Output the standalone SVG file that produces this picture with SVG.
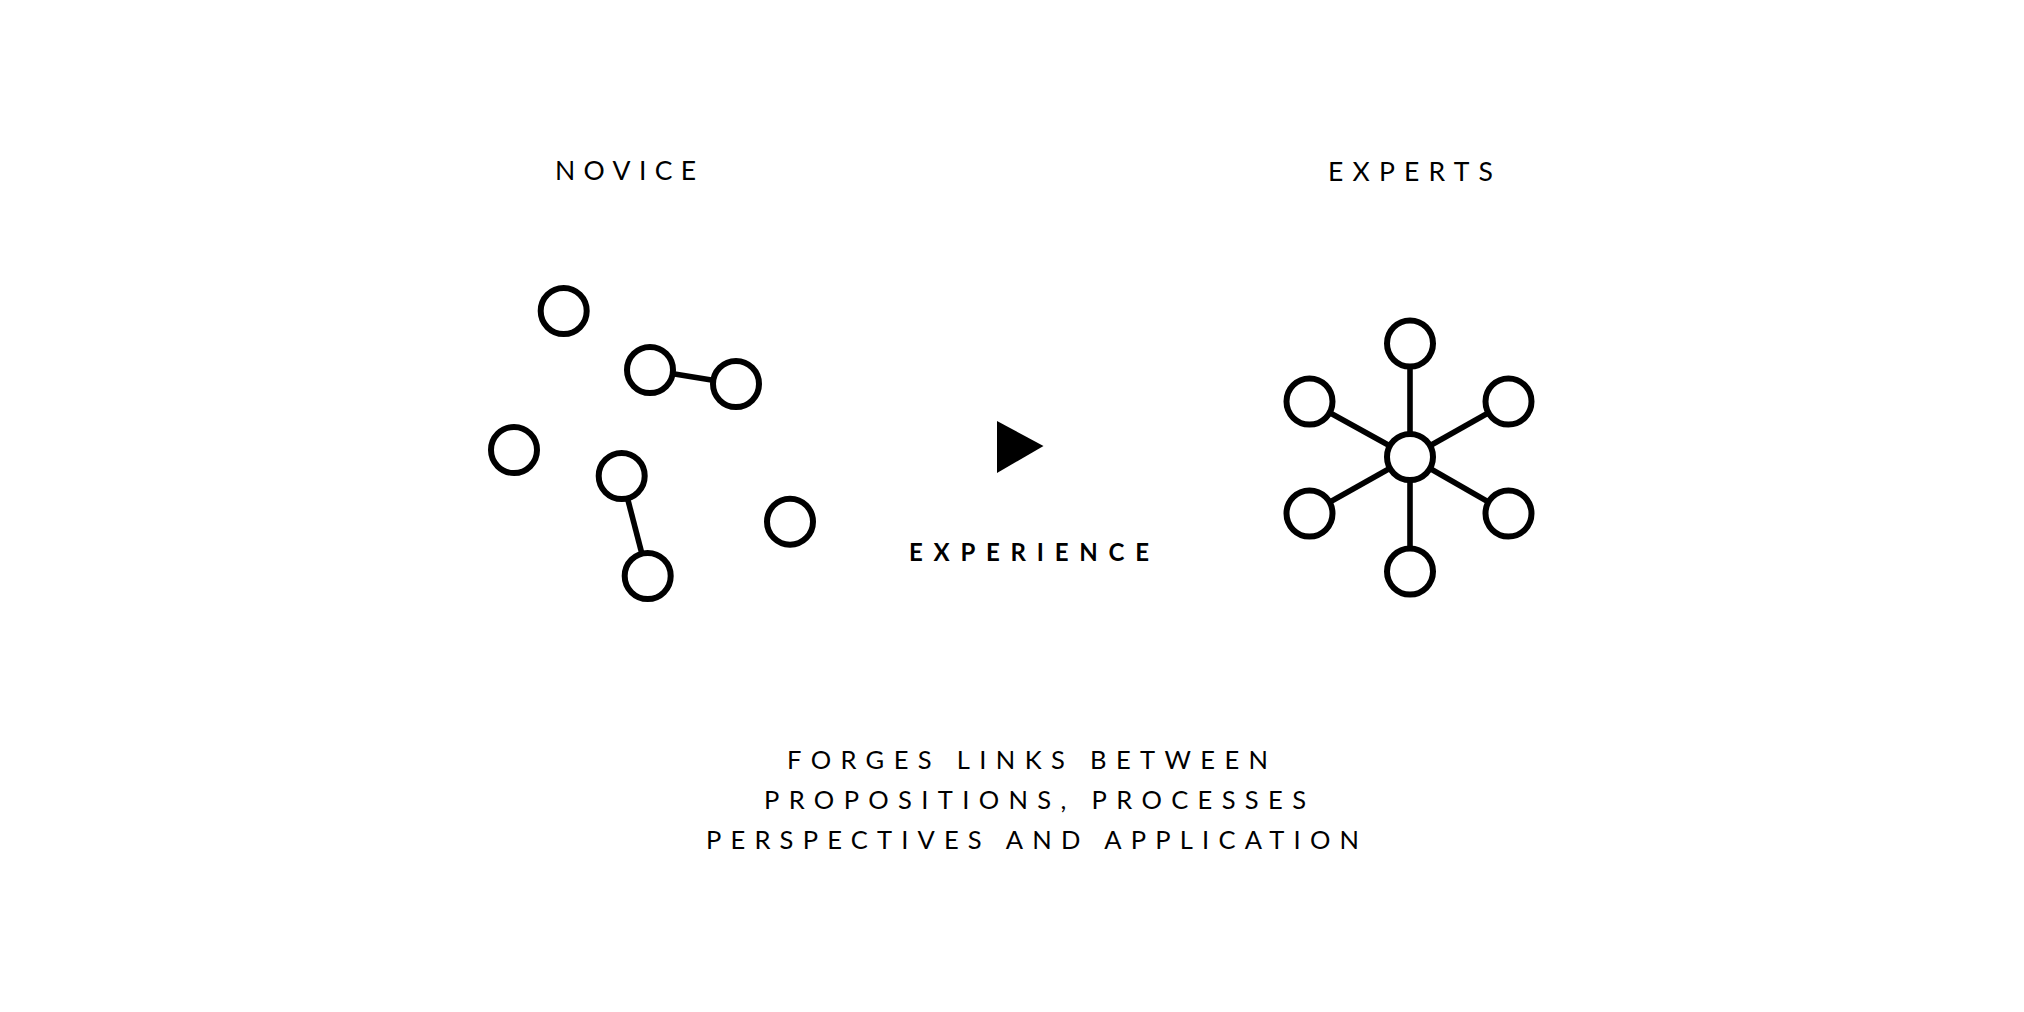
<svg xmlns="http://www.w3.org/2000/svg" width="2024" height="1012" viewBox="0 0 2024 1012">
<style>
.node{fill:#fff;stroke:#000;stroke-width:6}
.link{stroke:#000;stroke-width:5.6;fill:none}
.lbl{font-family:Lato,"Noto Sans",sans-serif;fill:#000}
</style>
<rect width="2024" height="1012" fill="#fff"/>
<g id="connectors">
<line class="link" x1="650" y1="370" x2="736" y2="384"/>
<line class="link" x1="621.7" y1="476" x2="647.7" y2="576"/>
<line class="link" x1="1410" y1="457" x2="1410" y2="343.5"/>
<line class="link" x1="1410" y1="457" x2="1410" y2="571.5"/>
<line class="link" x1="1410" y1="457" x2="1309.5" y2="401.5"/>
<line class="link" x1="1410" y1="457" x2="1508.5" y2="401.5"/>
<line class="link" x1="1410" y1="457" x2="1309.5" y2="513.5"/>
<line class="link" x1="1410" y1="457" x2="1508.5" y2="513.5"/>
</g>
<g id="novice-nodes">
<circle id="n1" class="node" cx="563.7" cy="311" r="23"/>
<circle id="n2" class="node" cx="650" cy="370" r="23"/>
<circle id="n3" class="node" cx="736" cy="384" r="23"/>
<circle id="n4" class="node" cx="514" cy="450" r="23"/>
<circle id="n5" class="node" cx="621.7" cy="476" r="23"/>
<circle id="n6" class="node" cx="647.7" cy="576" r="23"/>
<circle id="n7" class="node" cx="790" cy="521.7" r="23"/>
</g>
<g id="expert-nodes">
<circle id="e0" class="node" cx="1410" cy="457" r="23"/>
<circle id="e1" class="node" cx="1410" cy="343.5" r="23"/>
<circle id="e2" class="node" cx="1410" cy="571.5" r="23"/>
<circle id="e3" class="node" cx="1309.5" cy="401.5" r="23"/>
<circle id="e4" class="node" cx="1508.5" cy="401.5" r="23"/>
<circle id="e5" class="node" cx="1309.5" cy="513.5" r="23"/>
<circle id="e6" class="node" cx="1508.5" cy="513.5" r="23"/>
</g>
<g id="arrow">
<polygon points="997,421 1043.5,446 997,473" fill="#000"/>
</g>
<g id="labels">
<text class="lbl" x="555" y="180" font-size="26.5" textLength="141" lengthAdjust="spacing">NOVICE</text>
<text class="lbl" x="1328" y="180.5" font-size="26.5" textLength="165" lengthAdjust="spacing">EXPERTS</text>
<text class="lbl" x="909" y="561" font-size="24" font-weight="bold" textLength="240" lengthAdjust="spacing">EXPERIENCE</text>
<text class="lbl" x="787" y="769" font-size="25.5" textLength="481" lengthAdjust="spacing">FORGES LINKS BETWEEN</text>
<text class="lbl" x="764" y="809" font-size="25.5" textLength="542" lengthAdjust="spacing">PROPOSITIONS, PROCESSES</text>
<text class="lbl" x="706" y="849" font-size="25.5" textLength="653" lengthAdjust="spacing">PERSPECTIVES AND APPLICATION</text>
</g>
</svg>
